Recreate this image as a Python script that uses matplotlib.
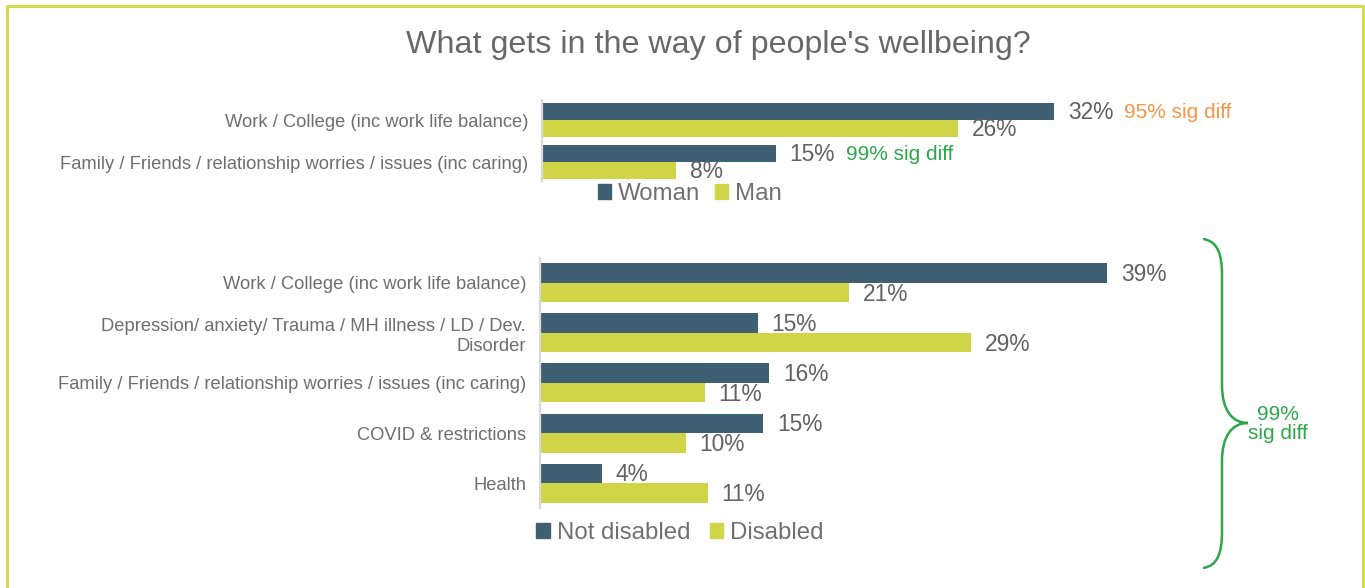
import matplotlib.pyplot as plt
from matplotlib.lines import Line2D
from matplotlib.patches import Patch, PathPatch
from matplotlib.path import Path

plt.rcParams['font.family'] = ['Liberation Sans', 'DejaVu Sans']

# data
top_cats = ['Work / College (inc work life balance)',
            'Family / Friends / relationship worries / issues (inc caring)']
woman = [32.0, 14.6]
man = [26.0, 8.4]
top_sig = ['95% sig diff', '99% sig diff']

bot_cats = ['Work / College (inc work life balance)',
            'Depression/ anxiety/ Trauma / MH illness / LD / Dev.\nDisorder',
            'Family / Friends / relationship worries / issues (inc caring)',
            'COVID & restrictions',
            'Health']
not_disabled = [38.6, 14.8, 15.6, 15.2, 4.2]
disabled = [21.0, 29.3, 11.2, 9.9, 11.4]

DARK = '#3f6073'
LIME = '#cfd546'
GREY = '#626262'
LGREY = '#6e6e6e'
ORANGE = '#f79646'
GREEN = '#2aa84a'
BORDER = '#d4dc4c'

W, H = 1365, 588
fig = plt.figure(figsize=(W / 100, H / 100), dpi=100)


def px_axes(l, t, r, b):
    return fig.add_axes([l / W, 1 - b / H, (r - l) / W, (b - t) / H])


def style(ax, cats, xmax, ymin, ymax):
    ax.set_xlim(0, xmax)
    ax.set_ylim(ymax, ymin)
    ax.set_yticks(range(len(cats)))
    ax.set_yticklabels(cats, fontsize=13.2, color=LGREY)
    for t in ax.get_yticklabels():
        t.set_linespacing(1.2)
    ax.tick_params(axis='y', length=0, pad=10)
    ax.set_xticks([])
    for s in ['top', 'right', 'bottom']:
        ax.spines[s].set_visible(False)
    ax.spines['left'].set_color('#d9d9d9')
    ax.spines['left'].set_linewidth(1.6)


def bars(ax, a, b, h, sig=None):
    ys = range(len(a))
    ra = ax.barh([y - h / 2 for y in ys], a, height=h, color=DARK)
    rb = ax.barh([y + h / 2 for y in ys], b, height=h, color=LIME)
    for rects, vals in ((ra, a), (rb, b)):
        for r, v in zip(rects, vals):
            ax.annotate(f'{v:.0f}%', (r.get_width(), r.get_y() + r.get_height() / 2),
                        xytext=(10, -1), textcoords='offset points',
                        ha='left', va='center', fontsize=16.4, color=GREY)
    if sig:
        for r, (txt, c) in zip(ra, sig):
            ax.annotate(txt, (r.get_width(), r.get_y() + r.get_height() / 2),
                        xytext=(50.5, -1), textcoords='offset points',
                        ha='left', va='center', fontsize=15, color=c)
    return ra, rb


# top chart
ax1 = px_axes(542, 100, 1200, 181)
style(ax1, top_cats, (1200 - 542) / 16.0, -0.476, 1.45)
bars(ax1, woman, man, 0.405, sig=[(top_sig[0], ORANGE), (top_sig[1], GREEN)])
ax1.legend(handles=[Patch(color=DARK, label='Woman'), Patch(color=LIME, label='Man')],
           loc='center', bbox_to_anchor=(690 / W, 1 - 194 / H), bbox_transform=fig.transFigure,
           ncol=2, frameon=False, fontsize=17.3, labelcolor='#707070',
           handlelength=0.55, handleheight=0.55, handletextpad=0.3, columnspacing=0.6)

# bottom chart
ax2 = px_axes(540, 258, 1200, 508)
style(ax2, bot_cats, (1200 - 540) / 14.7, -0.5, 4.5)
bars(ax2, not_disabled, disabled, 0.39)
ax2.legend(handles=[Patch(color=DARK, label='Not disabled'), Patch(color=LIME, label='Disabled')],
           loc='center', bbox_to_anchor=(680 / W, 1 - 533 / H), bbox_transform=fig.transFigure,
           ncol=2, frameon=False, fontsize=17.3, labelcolor='#707070',
           handlelength=0.55, handleheight=0.55, handletextpad=0.3, columnspacing=0.8)

# title
fig.text(718 / W, 1 - 45 / H, "What gets in the way of people's wellbeing?",
         ha='center', va='center', fontsize=23.2, color='#686868')

# brace on the right
pts = [(1203, 239), (1218, 241), (1222, 255), (1222, 275),
       (1222, 385),
       (1222, 410), (1232, 423), (1248, 423),
       (1232, 423), (1222, 436), (1222, 461),
       (1222, 532),
       (1222, 552), (1218, 566), (1203, 568)]
codes = [Path.MOVETO, Path.CURVE4, Path.CURVE4, Path.CURVE4,
         Path.LINETO,
         Path.CURVE4, Path.CURVE4, Path.CURVE4,
         Path.CURVE4, Path.CURVE4, Path.CURVE4,
         Path.LINETO,
         Path.CURVE4, Path.CURVE4, Path.CURVE4]
brace = Path([(x / W, 1 - y / H) for x, y in pts], codes)
fig.add_artist(PathPatch(brace, transform=fig.transFigure, fill=False,
                         edgecolor=GREEN, linewidth=1.8))
fig.text(1278 / W, 1 - 424 / H, '99%\nsig diff', ha='center', va='center',
         fontsize=15, color=GREEN, linespacing=0.95)

# outer frame (left, top, right)
fig.add_artist(Line2D([7 / W, 7 / W, 1363 / W, 1363 / W],
                      [0, 1 - 6 / H, 1 - 6 / H, 0],
                      transform=fig.transFigure, color=BORDER, linewidth=2.2))

fig.savefig('out.png', dpi=100)
